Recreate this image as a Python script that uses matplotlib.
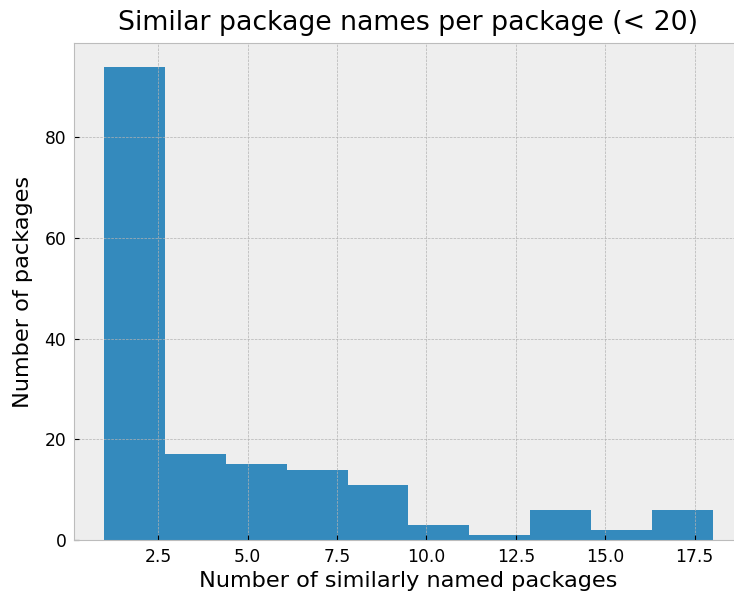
import numpy as np
import matplotlib
matplotlib.use("Agg")
import matplotlib.pyplot as plt

plt.style.use("bmh")
plt.rcParams["font.family"] = ["DejaVu Sans"]
plt.rcParams["font.size"] = 12.3
plt.rcParams["xtick.major.pad"] = 5.5
plt.rcParams["ytick.major.pad"] = 5.5

# Histogram of similar-name counts (packages with fewer than 20 matches)
bin_edges = np.linspace(1, 18, 11)
bin_counts = [94, 17, 15, 14, 11, 3, 1, 6, 2, 6]

title = "Similar package names per package (< 20)"
xlabel = "Number of similarly named packages"
ylabel = "Number of packages"

fig = plt.figure(figsize=(7.34, 5.98), dpi=100)
ax = fig.add_axes([74 / 734, 58 / 598, (743 - 74) / 734, (540 - 43) / 598])

centers = (bin_edges[:-1] + bin_edges[1:]) / 2
ax.hist(centers, bins=bin_edges, weights=bin_counts)

ax.set_title(title, fontsize=19.3, pad=9)
ax.set_xlabel(xlabel, fontsize=16.1, labelpad=4)
ax.set_ylabel(ylabel, fontsize=16.1, labelpad=8)

fig.savefig("out.png", dpi=100)
